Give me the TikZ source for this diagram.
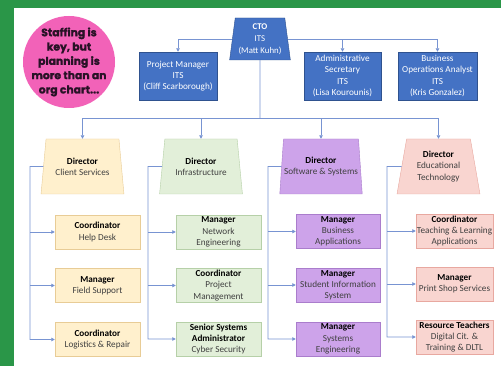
\documentclass[tikz,border=0pt]{standalone}
\usepackage{fontspec}
\setmainfont{Carlito}
\newfontfamily\popfont[FakeBold=1.5]{Poppins}
\usetikzlibrary{shapes.geometric, arrows.meta}

\definecolor{framegreen}{RGB}{42,150,72}
\definecolor{ctoblue}{RGB}{68,114,196}
\definecolor{ctoline}{RGB}{47,82,143}
\definecolor{linkblue}{RGB}{120,148,210}
\definecolor{hotpink}{RGB}{242,98,184}
\definecolor{notetext}{RGB}{40,18,38}
\definecolor{csfill}{RGB}{255,240,205}
\definecolor{csline}{RGB}{232,204,150}
\definecolor{infill}{RGB}{226,239,217}
\definecolor{inline}{RGB}{182,208,168}
\definecolor{swfill}{RGB}{205,163,234}
\definecolor{swline}{RGB}{170,125,204}
\definecolor{etfill}{RGB}{249,213,208}
\definecolor{etline}{RGB}{232,168,160}
\definecolor{txtgray}{RGB}{64,64,64}
\newcommand{\rolehead}[1]{\textcolor{black}{\bfseries #1}}

\begin{document}
\begin{tikzpicture}[x=1pt, y=-1pt,
	box/.style={draw=ctoline, fill=ctoblue, text=white, align=center, font=\fontsize{9.2}{11.2}\selectfont, inner xsep=0pt, inner ysep=1pt, minimum height=48, minimum width=78},
	boss/.style={box, trapezium, trapezium left angle=83.2, trapezium right angle=83.2, trapezium stretches=true, minimum width=61, minimum height=42, inner xsep=-4pt, font=\fontsize{8.8}{12}\selectfont},
	dir/.style={trapezium, trapezium left angle=81.7, trapezium right angle=81.7, trapezium stretches=true, minimum width=83, minimum height=55, inner xsep=-6pt, inner ysep=1pt, align=center, text=txtgray, font=\fontsize{9.2}{11.2}\selectfont},
	role/.style={rectangle, minimum width=85, minimum height=34, inner xsep=0pt, inner ysep=1pt, align=center, text=txtgray, font=\fontsize{9.2}{11.2}\selectfont},
	link/.style={draw=linkblue, line width=0.8pt, -{Triangle[length=3.5pt, width=3.5pt]}},
	wire/.style={draw=linkblue, line width=0.8pt}]
	\useasboundingbox (0,0) rectangle (501,366);
	\fill[framegreen] (0,0) rectangle (501,366);
	\fill[white] (14,8.5) rectangle (501,366);

	\node[circle, fill=hotpink, text=notetext, minimum size=92, inner sep=-8pt, align=center, font=\popfont\bfseries\fontsize{10.8}{14.3}\selectfont] (note) at (69,62) {Staffing is\\key, but\\planning is\\more than an\\org chart...};

	\node[boss] (cto) at (260,39) {\textbf{CTO}\\ITS\\(Matt Kuhn)};
	\node[box] (pm) at (178,76) {Project Manager\\ITS\\(Cliff Scarborough)};
	\node[box, minimum width=77] (adm) at (342.5,76) {Administrative\\Secretary\\ITS\\(Lisa Kourounis)};
	\node[box, minimum width=79] (boa) at (437.5,76) {Business\\Operations Analyst\\ITS\\(Kris Gonzalez)};

	\node[dir, fill=csfill, draw=csline] (dcs) at (82.5,166.5) {\rolehead{Director}\\Client Services};
	\node[dir, fill=infill, draw=inline] (din) at (201,166.5) {\rolehead{Director}\\Infrastructure};
	\node[dir, fill=swfill, draw=swline] (dsw) at (321,166.5) {\rolehead{Director}\\Software \& Systems};
	\node[dir, fill=etfill, draw=etline] (det) at (438.5,166.5) {\rolehead{Director}\\Educational\\Technology};

	\node[role, fill=csfill, draw=csline] (cs1) at (97.5,232) {\rolehead{Coordinator}\\Help Desk};
	\node[role, fill=csfill, draw=csline] (cs2) at (97.5,285.5) {\rolehead{Manager}\\Field Support};
	\node[role, fill=csfill, draw=csline] (cs3) at (97.5,339.5) {\rolehead{Coordinator}\\Logistics \& Repair};

	\node[role, fill=infill, draw=inline] (in1) at (218.5,232) {\rolehead{Manager}\\Network\\Engineering};
	\node[role, fill=infill, draw=inline] (in2) at (218.5,285.5) {\rolehead{Coordinator}\\Project\\Management};
	\node[role, fill=infill, draw=inline] (in3) at (218.5,339) {\rolehead{Senior Systems}\\\rolehead{Administrator}\\Cyber Security};

	\node[role, fill=swfill, draw=swline, minimum width=84] (sw1) at (338,231.5) {\rolehead{Manager}\\Business\\Applications};
	\node[role, fill=swfill, draw=swline, minimum width=84] (sw2) at (338,285) {\rolehead{Manager}\\Student Information\\System};
	\node[role, fill=swfill, draw=swline, minimum width=84] (sw3) at (338,339) {\rolehead{Manager}\\Systems\\Engineering};

	\node[role, fill=etfill, draw=etline, minimum width=77] (et1) at (454.5,231) {\rolehead{Coordinator}\\Teaching \& Learning\\Applications};
	\node[role, fill=etfill, draw=etline, minimum width=77] (et2) at (454.5,284) {\rolehead{Manager}\\Print Shop Services};
	\node[role, fill=etfill, draw=etline, minimum width=77] (et3) at (454.5,337) {\rolehead{Resource Teachers}\\Digital Cit. \&\\Training \& DLTL};

	\draw[link] (cto.west) -| (pm.north);
	\draw[link] (cto.east) -| (adm.north);
	\draw[link] (cto.east) -| (boa.north);

	\coordinate (dirbus) at (260,118);
	\draw[wire] (cto.south) -- (dirbus);
	\draw[link] (dirbus) -| (dcs.north);
	\draw[link] (dirbus) -| (din.north);
	\draw[link] (dirbus) -| (dsw.north);
	\draw[link] (dirbus) -| (det.north);

	\coordinate (csbus) at (30,166.5);
	\draw[link] (dcs.west) -- (csbus) |- (cs3.west);
	\draw[link] (csbus |- cs1.west) -- (cs1.west);
	\draw[link] (csbus |- cs2.west) -- (cs2.west);

	\coordinate (inbus) at (148,166.5);
	\draw[link] (din.west) -- (inbus) |- (in3.west);
	\draw[link] (inbus |- in1.west) -- (in1.west);
	\draw[link] (inbus |- in2.west) -- (in2.west);

	\coordinate (swbus) at (268,166.5);
	\draw[link] (dsw.west) -- (swbus) |- (sw3.west);
	\draw[link] (swbus |- sw1.west) -- (sw1.west);
	\draw[link] (swbus |- sw2.west) -- (sw2.west);

	\coordinate (etbus) at (387,166.5);
	\draw[link] (det.west) -- (etbus) |- (et3.west);
	\draw[link] (etbus |- et1.west) -- (et1.west);
	\draw[link] (etbus |- et2.west) -- (et2.west);
\end{tikzpicture}
\end{document}
